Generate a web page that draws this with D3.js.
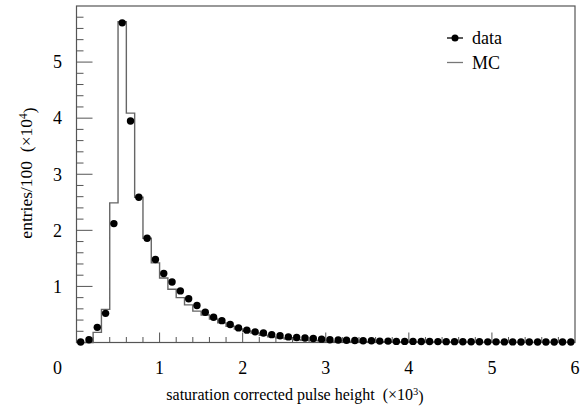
<!DOCTYPE html>
<html>
<head>
<meta charset="utf-8">
<script src="https://cdn.jsdelivr.net/npm/d3@7"></script>
<style>
  html, body { margin: 0; padding: 0; background: #fff; }
  svg text { font-family: "Liberation Serif", "Times New Roman", serif; fill: #000; }
</style>
</head>
<body>
<div id="chart"></div>
<script>
// bins of 100 in pulse height, shown in units of 10^3
const binWidth = 0.1;
const binLow = d3.range(60).map(i => +(i * binWidth).toFixed(1));

// entries/100 in units of 10^4
const dataCounts = [
  0.01, 0.05, 0.27, 0.52, 2.12, 5.70, 3.95, 2.59, 1.86, 1.48,
  1.23, 1.08, 0.92, 0.78, 0.66, 0.54, 0.45, 0.39, 0.32, 0.26,
  0.22, 0.19, 0.17, 0.14, 0.12, 0.10, 0.09, 0.08, 0.07, 0.06,
  0.05, 0.045, 0.04, 0.035, 0.03, 0.03, 0.025, 0.025, 0.02, 0.02,
  0.02, 0.018, 0.017, 0.016, 0.015, 0.015, 0.014, 0.013, 0.013, 0.012,
  0.012, 0.011, 0.011, 0.01, 0.01, 0.01, 0.01, 0.009, 0.009, 0.008
];
const mcCounts = [
  0, 0, 0.18, 0.59, 2.49, 5.72, 4.09, 2.59, 1.86, 1.42,
  1.15, 0.95, 0.80, 0.67, 0.56, 0.49, 0.42, 0.35, 0.29, 0.24,
  0.20, 0.17, 0.13, 0.10, 0.08, 0.06, 0.05, 0.04, 0.035, 0.03,
  0.025, 0.022, 0.02, 0.018, 0.016, 0.015, 0.014, 0.013, 0.012, 0.011,
  0.01, 0.01, 0.01, 0.009, 0.009, 0.008, 0.008, 0.008, 0.007, 0.007,
  0.007, 0.006, 0.006, 0.006, 0.005, 0.005, 0.005, 0.005, 0.004, 0.004
];
const xTicks = [1, 2, 3, 4, 5, 6];
const yTicks = [1, 2, 3, 4, 5];
const legendItems = ["data", "MC"];

const width = 581, height = 411;
const frame = { left: 76.5, right: 575, top: 6, bottom: 342.5 };

const svg = d3.select("#chart").append("svg")
  .attr("width", width)
  .attr("height", height);

const x = d3.scaleLinear().domain([0, 6]).range([frame.left, frame.right]);
const y = d3.scaleLinear().domain([0, 6]).range([frame.bottom, frame.top]);

const axisColor = "#555";

// frame
svg.append("rect")
  .attr("x", frame.left).attr("y", frame.top)
  .attr("width", frame.right - frame.left).attr("height", frame.bottom - frame.top)
  .attr("fill", "none")
  .attr("stroke", axisColor)
  .attr("stroke-width", 1.2);

// x ticks: minor every 0.2, major every 1
const xMinor = d3.range(1, 30).map(i => +(i * 0.2).toFixed(1));
svg.append("g").selectAll("line")
  .data(xMinor)
  .enter().append("line")
  .attr("x1", d => x(d)).attr("x2", d => x(d))
  .attr("y1", frame.bottom)
  .attr("y2", d => Number.isInteger(d) ? frame.bottom - 10 : frame.bottom - 5.5)
  .attr("stroke", axisColor)
  .attr("stroke-width", 1);

// y ticks: minor every 0.2, major every 1
const yMinor = d3.range(1, 30).map(i => +(i * 0.2).toFixed(1));
svg.append("g").selectAll("line")
  .data(yMinor)
  .enter().append("line")
  .attr("y1", d => y(d)).attr("y2", d => y(d))
  .attr("x1", frame.left)
  .attr("x2", d => Number.isInteger(d) ? frame.left + 16 : frame.left + 7)
  .attr("stroke", axisColor)
  .attr("stroke-width", 1);

// tick labels
svg.append("g").selectAll("text")
  .data(xTicks)
  .enter().append("text")
  .attr("x", d => x(d))
  .attr("y", frame.bottom + 25)
  .attr("dy", "0.35em")
  .attr("text-anchor", "middle")
  .style("font-size", "18px")
  .text(d => d);

svg.append("g").selectAll("text")
  .data(yTicks)
  .enter().append("text")
  .attr("x", frame.left - 19)
  .attr("y", d => y(d))
  .attr("dy", "0.35em")
  .attr("text-anchor", "middle")
  .style("font-size", "18px")
  .text(d => d);

// shared origin label
svg.append("text")
  .attr("x", x(0) - 19)
  .attr("y", y(0) + 25)
  .attr("dy", "0.35em")
  .attr("text-anchor", "middle")
  .style("font-size", "18px")
  .text("0");

// axis titles
const xTitle = svg.append("text")
  .attr("x", 295)
  .attr("y", 394)
  .attr("dy", "0.35em")
  .attr("text-anchor", "middle")
  .style("font-size", "16px");
xTitle.append("tspan").text("saturation corrected pulse height\u00a0\u00a0(\u00d710");
xTitle.append("tspan").attr("dy", "-0.45em").style("font-size", "10.5px").text("3");
xTitle.append("tspan").attr("dy", "0.45em").text(")");

const yTitle = svg.append("text")
  .attr("transform", `translate(26, 173) rotate(-90)`)
  .attr("dy", "0.35em")
  .attr("text-anchor", "middle")
  .style("font-size", "17.5px");
yTitle.append("tspan").text("entries/100\u00a0\u00a0(\u00d710");
yTitle.append("tspan").attr("dy", "-0.45em").style("font-size", "11.5px").text("4");
yTitle.append("tspan").attr("dy", "0.45em").text(")");

// MC histogram as step line
const mcSteps = [[0, 0]];
binLow.forEach((b, i) => {
  mcSteps.push([b, mcCounts[i]]);
});
mcSteps.push([6, mcCounts[mcCounts.length - 1]]);

const stepLine = d3.line()
  .x(d => x(d[0]))
  .y(d => y(d[1]))
  .curve(d3.curveStepAfter);

svg.append("path")
  .datum(mcSteps)
  .attr("d", stepLine)
  .attr("fill", "none")
  .attr("stroke", "#666")
  .attr("stroke-width", 1.4);

// data points
svg.append("g").selectAll("circle")
  .data(dataCounts)
  .enter().append("circle")
  .attr("cx", (d, i) => x(binLow[i] + binWidth / 2))
  .attr("cy", d => y(d))
  .attr("r", 3.7)
  .attr("fill", "#000");

// legend
const legend = svg.append("g");
legendItems.forEach((name, i) => {
  const ly = 38 + i * 24.5;
  legend.append("line")
    .attr("x1", 447).attr("x2", 463)
    .attr("y1", ly).attr("y2", ly)
    .attr("stroke", i === 0 ? "#000" : "#777")
    .attr("stroke-width", 1.3);
  if (i === 0) {
    legend.append("circle")
      .attr("cx", 455).attr("cy", ly)
      .attr("r", 3.5)
      .attr("fill", "#000");
  }
  legend.append("text")
    .attr("x", 472)
    .attr("y", ly)
    .attr("dy", "0.35em")
    .style("font-size", "18px")
    .text(name);
});
</script>
</body>
</html>
